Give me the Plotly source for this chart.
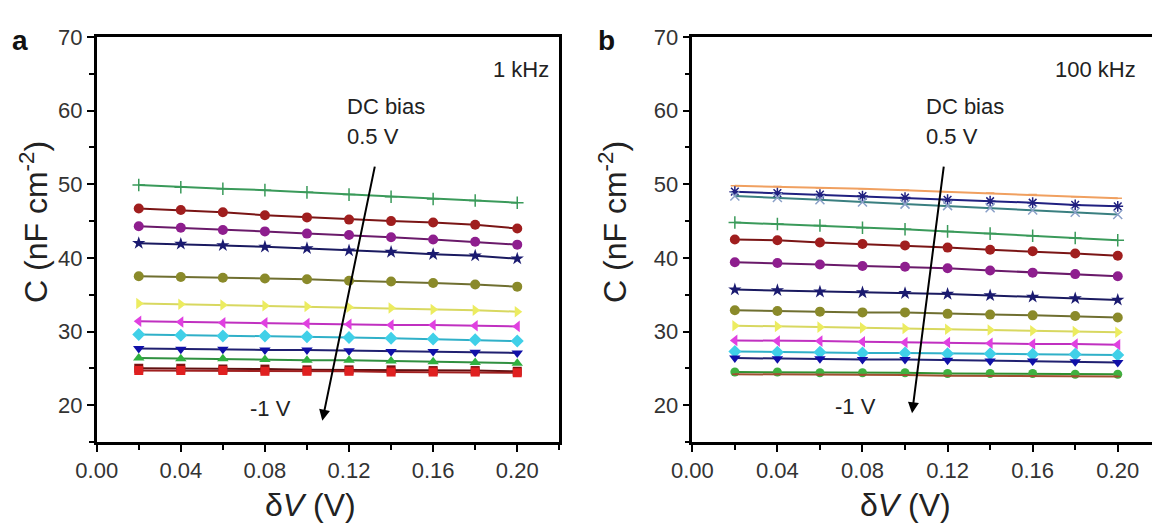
import plotly.graph_objects as go

dV = [0.02, 0.04, 0.06, 0.08, 0.10, 0.12, 0.14, 0.16, 0.18, 0.20]

# Panel a (1 kHz) series, top to bottom
a_green_plus = [49.9, 49.6, 49.4, 49.2, 48.9, 48.6, 48.3, 48.0, 47.8, 47.5]
a_red_circ = [46.7, 46.5, 46.2, 45.8, 45.5, 45.2, 45.0, 44.8, 44.5, 44.0]
a_purple = [44.3, 44.1, 43.8, 43.6, 43.3, 43.1, 42.8, 42.5, 42.2, 41.8]
a_navy_star = [42.0, 41.9, 41.7, 41.5, 41.3, 41.0, 40.8, 40.5, 40.3, 39.9]
a_olive = [37.5, 37.4, 37.3, 37.2, 37.1, 36.9, 36.8, 36.6, 36.4, 36.1]
a_yellow = [33.8, 33.7, 33.6, 33.5, 33.4, 33.3, 33.2, 33.0, 32.9, 32.7]
a_magenta = [31.4, 31.3, 31.2, 31.2, 31.1, 31.0, 30.9, 30.9, 30.8, 30.7]
a_cyan = [29.6, 29.5, 29.4, 29.4, 29.3, 29.2, 29.1, 29.0, 28.9, 28.7]
a_blue_down = [27.7, 27.6, 27.6, 27.5, 27.5, 27.4, 27.3, 27.3, 27.2, 27.1]
a_green_up = [26.4, 26.3, 26.3, 26.2, 26.1, 26.1, 26.0, 25.9, 25.8, 25.7]
a_maroon = [25.0, 25.0, 24.9, 24.9, 24.8, 24.8, 24.8, 24.7, 24.7, 24.6]
a_red_sq = [24.7, 24.7, 24.7, 24.6, 24.6, 24.6, 24.5, 24.5, 24.5, 24.4]

# Panel b (100 kHz) series, top to bottom
b_orange = [49.8, 49.7, 49.5, 49.4, 49.2, 49.0, 48.8, 48.6, 48.3, 48.1]
b_blue_ast = [49.0, 48.8, 48.6, 48.4, 48.2, 47.9, 47.7, 47.5, 47.2, 47.0]
b_x = [48.4, 48.2, 47.9, 47.6, 47.3, 47.1, 46.8, 46.5, 46.2, 45.9]
b_green_plus = [44.8, 44.6, 44.4, 44.1, 43.9, 43.6, 43.3, 43.0, 42.7, 42.4]
b_red_circ = [42.5, 42.4, 42.1, 41.9, 41.7, 41.4, 41.1, 40.9, 40.6, 40.3]
b_purple = [39.4, 39.3, 39.1, 38.9, 38.8, 38.6, 38.3, 38.0, 37.8, 37.5]
b_navy_star = [35.7, 35.6, 35.4, 35.3, 35.2, 35.1, 34.9, 34.7, 34.5, 34.3]
b_olive = [32.9, 32.8, 32.7, 32.6, 32.6, 32.4, 32.3, 32.2, 32.1, 31.9]
b_yellow = [30.8, 30.7, 30.6, 30.5, 30.4, 30.3, 30.2, 30.1, 30.0, 29.9]
b_magenta = [28.8, 28.7, 28.7, 28.6, 28.5, 28.5, 28.4, 28.3, 28.3, 28.2]
b_cyan = [27.3, 27.2, 27.2, 27.1, 27.1, 27.0, 27.0, 26.9, 26.9, 26.8]
b_blue_down = [26.4, 26.3, 26.3, 26.2, 26.2, 26.1, 26.0, 26.0, 25.9, 25.8]
b_green_circ = [24.5, 24.5, 24.4, 24.4, 24.4, 24.3, 24.3, 24.3, 24.2, 24.2]
b_brown = [24.2, 24.2, 24.1, 24.1, 24.1, 24.0, 24.0, 24.0, 23.9, 23.9]

x_ticks = [0.00, 0.04, 0.08, 0.12, 0.16, 0.20]
x_tick_text = ["0.00", "0.04", "0.08", "0.12", "0.16", "0.20"]
y_ticks = [20, 30, 40, 50, 60, 70]

# (values, marker symbol, marker color, line color, marker size)
panel_a = [
    (a_green_plus, "cross-thin", "#3a9a5a", "#3a9a5a", 9),
    (a_red_circ, "circle", "#a01e1e", "#7a1515", 10),
    (a_purple, "circle", "#8e1e8e", "#6a1a6a", 10),
    (a_navy_star, "star", "#1a1a70", "#1a1a60", 10),
    (a_olive, "circle", "#8a8a2a", "#6f6f30", 10),
    (a_yellow, "triangle-right", "#ecec60", "#d8d860", 10),
    (a_magenta, "triangle-left", "#e040e0", "#c030c0", 10),
    (a_cyan, "diamond", "#40d0e8", "#30b0c8", 10),
    (a_blue_down, "triangle-down", "#1010a8", "#202070", 10),
    (a_green_up, "triangle-up", "#30b040", "#309040", 10),
    (a_maroon, "square", "#801010", "#601010", 9),
    (a_red_sq, "square", "#e02020", "#a02020", 9),
]
panel_b = [
    (b_orange, "line-ew", "#f0a060", "#f0a060", 6),
    (b_blue_ast, "asterisk-open", "#202080", "#202080", 9),
    (b_x, "x-thin", "#8aa0c8", "#3a7f80", 9),
    (b_green_plus, "cross-thin", "#3a9a5a", "#3a9a5a", 9),
    (b_red_circ, "circle", "#a01e1e", "#7a1515", 10),
    (b_purple, "circle", "#8e1e8e", "#6a1a6a", 10),
    (b_navy_star, "star", "#1a1a70", "#1a1a60", 10),
    (b_olive, "circle", "#8a8a2a", "#6f6f30", 10),
    (b_yellow, "triangle-right", "#ecec60", "#d8d860", 10),
    (b_magenta, "triangle-left", "#e040e0", "#c030c0", 10),
    (b_cyan, "diamond", "#40d0e8", "#30b0c8", 10),
    (b_blue_down, "triangle-down", "#1010a8", "#202070", 10),
    (b_green_circ, "circle", "#40b040", "#309030", 9),
    (b_brown, "line-ew", "#a05030", "#a05030", 4),
]

fig = go.Figure()


def add_series(series, xa, ya):
    for vals, sym, mc, lc, ms in series:
        thin = sym in ("cross-thin", "x-thin", "asterisk-open", "line-ew")
        fig.add_trace(go.Scatter(
            x=dV, y=vals, xaxis=xa, yaxis=ya, mode="lines+markers",
            line=dict(color=lc, width=2),
            marker=dict(symbol=sym, size=ms, color=mc,
                        line=dict(color=mc, width=1.5 if thin else 0)),
            showlegend=False, hoverinfo="skip"))


add_series(panel_a, "x", "y")
add_series(panel_b, "x2", "y2")

FONT = "Liberation Sans, Arial"
tick_font = dict(family=FONT, size=22, color="#333333")
title_font = dict(family=FONT, size=32, color="#222222")

common_x = dict(
    showline=True, linecolor="#000000", linewidth=2.5, ticks="outside",
    ticklen=7, tickwidth=2, tickcolor="#000000", tickvals=x_ticks,
    ticktext=x_tick_text, tickfont=tick_font, showgrid=False, zeroline=False,
    automargin=False,
    minor=dict(dtick=0.02, tick0=0, ticks="outside", ticklen=5, tickwidth=1.5, tickcolor="#000000"),
)
common_y = dict(
    showline=True, linecolor="#000000", linewidth=2.5, ticks="outside",
    ticklen=7, tickwidth=2, tickcolor="#000000", tickvals=y_ticks,
    tickfont=tick_font, showgrid=False, zeroline=False, range=[15, 70],
    automargin=False,
    minor=dict(dtick=5, tick0=0, ticks="outside", ticklen=5, tickwidth=1.5, tickcolor="#000000"),
)

TOP, BOT = 37, 442
H = BOT - TOP

fig.update_layout(
    width=1152, height=532, plot_bgcolor="white", paper_bgcolor="white",
    margin=dict(l=0, r=0, t=TOP, b=532 - BOT, autoexpand=False),
    xaxis=dict(common_x, domain=[96.7 / 1152, 559.3 / 1152], range=[0, 0.22], mirror=True, anchor="y"),
    yaxis=dict(common_y, domain=[0, 1], mirror=True, anchor="x"),
    xaxis2=dict(common_x, domain=[692.3 / 1152, 1.0], range=[0, 0.2161], mirror=True, anchor="y2"),
    yaxis2=dict(common_y, domain=[0, 1], mirror=False, anchor="x2"),
)


def px(x):
    return x / 1152


def py(y):
    return (BOT - y) / H


ann_font = dict(family=FONT, size=22, color="#222222")
annotations = [
    # panel a
    dict(x=0.216, y=65.6, xref="x", yref="y", text="1 kHz", showarrow=False, xanchor="right", font=ann_font),
    dict(x=0.118, y=60.6, xref="x", yref="y", text="DC bias", showarrow=False, xanchor="left", font=ann_font),
    dict(x=0.118, y=56.5, xref="x", yref="y", text="0.5 V", showarrow=False, xanchor="left", font=ann_font),
    dict(x=0.072, y=19.6, xref="x", yref="y", text="-1 V", showarrow=False, xanchor="left", font=ann_font),
    dict(x=0.1073, y=17.9, ax=0.1324, ay=52.6, xref="x", yref="y", axref="x", ayref="y",
         text="", showarrow=True, arrowhead=2, arrowsize=1.1, arrowwidth=2, arrowcolor="#000000"),
    # panel b
    dict(x=0.2095, y=65.6, xref="x2", yref="y2", text="100 kHz", showarrow=False, xanchor="right", font=ann_font),
    dict(x=0.109, y=60.6, xref="x2", yref="y2", text="DC bias", showarrow=False, xanchor="left", font=ann_font),
    dict(x=0.109, y=56.5, xref="x2", yref="y2", text="0.5 V", showarrow=False, xanchor="left", font=ann_font),
    dict(x=0.066, y=19.8, xref="x2", yref="y2", text="-1 V", showarrow=False, xanchor="left", font=ann_font),
    dict(x=0.1033, y=18.9, ax=0.1183, ay=52.6, xref="x2", yref="y2", axref="x2", ayref="y2",
         text="", showarrow=True, arrowhead=2, arrowsize=1.1, arrowwidth=2, arrowcolor="#000000"),
    # axis titles
    dict(x=px(34), y=py(222), xref="paper", yref="paper", text="C (nF cm<sup>-2</sup>)", textangle=-90,
         showarrow=False, xanchor="center", yanchor="middle", font=title_font),
    dict(x=px(613), y=py(222), xref="paper", yref="paper", text="C (nF cm<sup>-2</sup>)", textangle=-90,
         showarrow=False, xanchor="center", yanchor="middle", font=title_font),
    dict(x=px(310), y=py(505), xref="paper", yref="paper", text="δ<i>V</i> (V)",
         showarrow=False, xanchor="center", yanchor="middle", font=title_font),
    dict(x=px(905), y=py(505), xref="paper", yref="paper", text="δ<i>V</i> (V)",
         showarrow=False, xanchor="center", yanchor="middle", font=title_font),
    # panel letters
    dict(x=px(10), y=py(40), xref="paper", yref="paper", text="<b>a</b>", showarrow=False,
         xanchor="left", yanchor="middle", font=dict(family=FONT, size=28, color="#111111")),
    dict(x=px(596), y=py(40), xref="paper", yref="paper", text="<b>b</b>", showarrow=False,
         xanchor="left", yanchor="middle", font=dict(family=FONT, size=28, color="#111111")),
]
fig.update_layout(annotations=annotations)

# remove the browser's default page margin so the figure sits at the window origin
fig.write_html("out.html", config={"displayModeBar": False},
               post_script="document.body.style.margin='0';")
